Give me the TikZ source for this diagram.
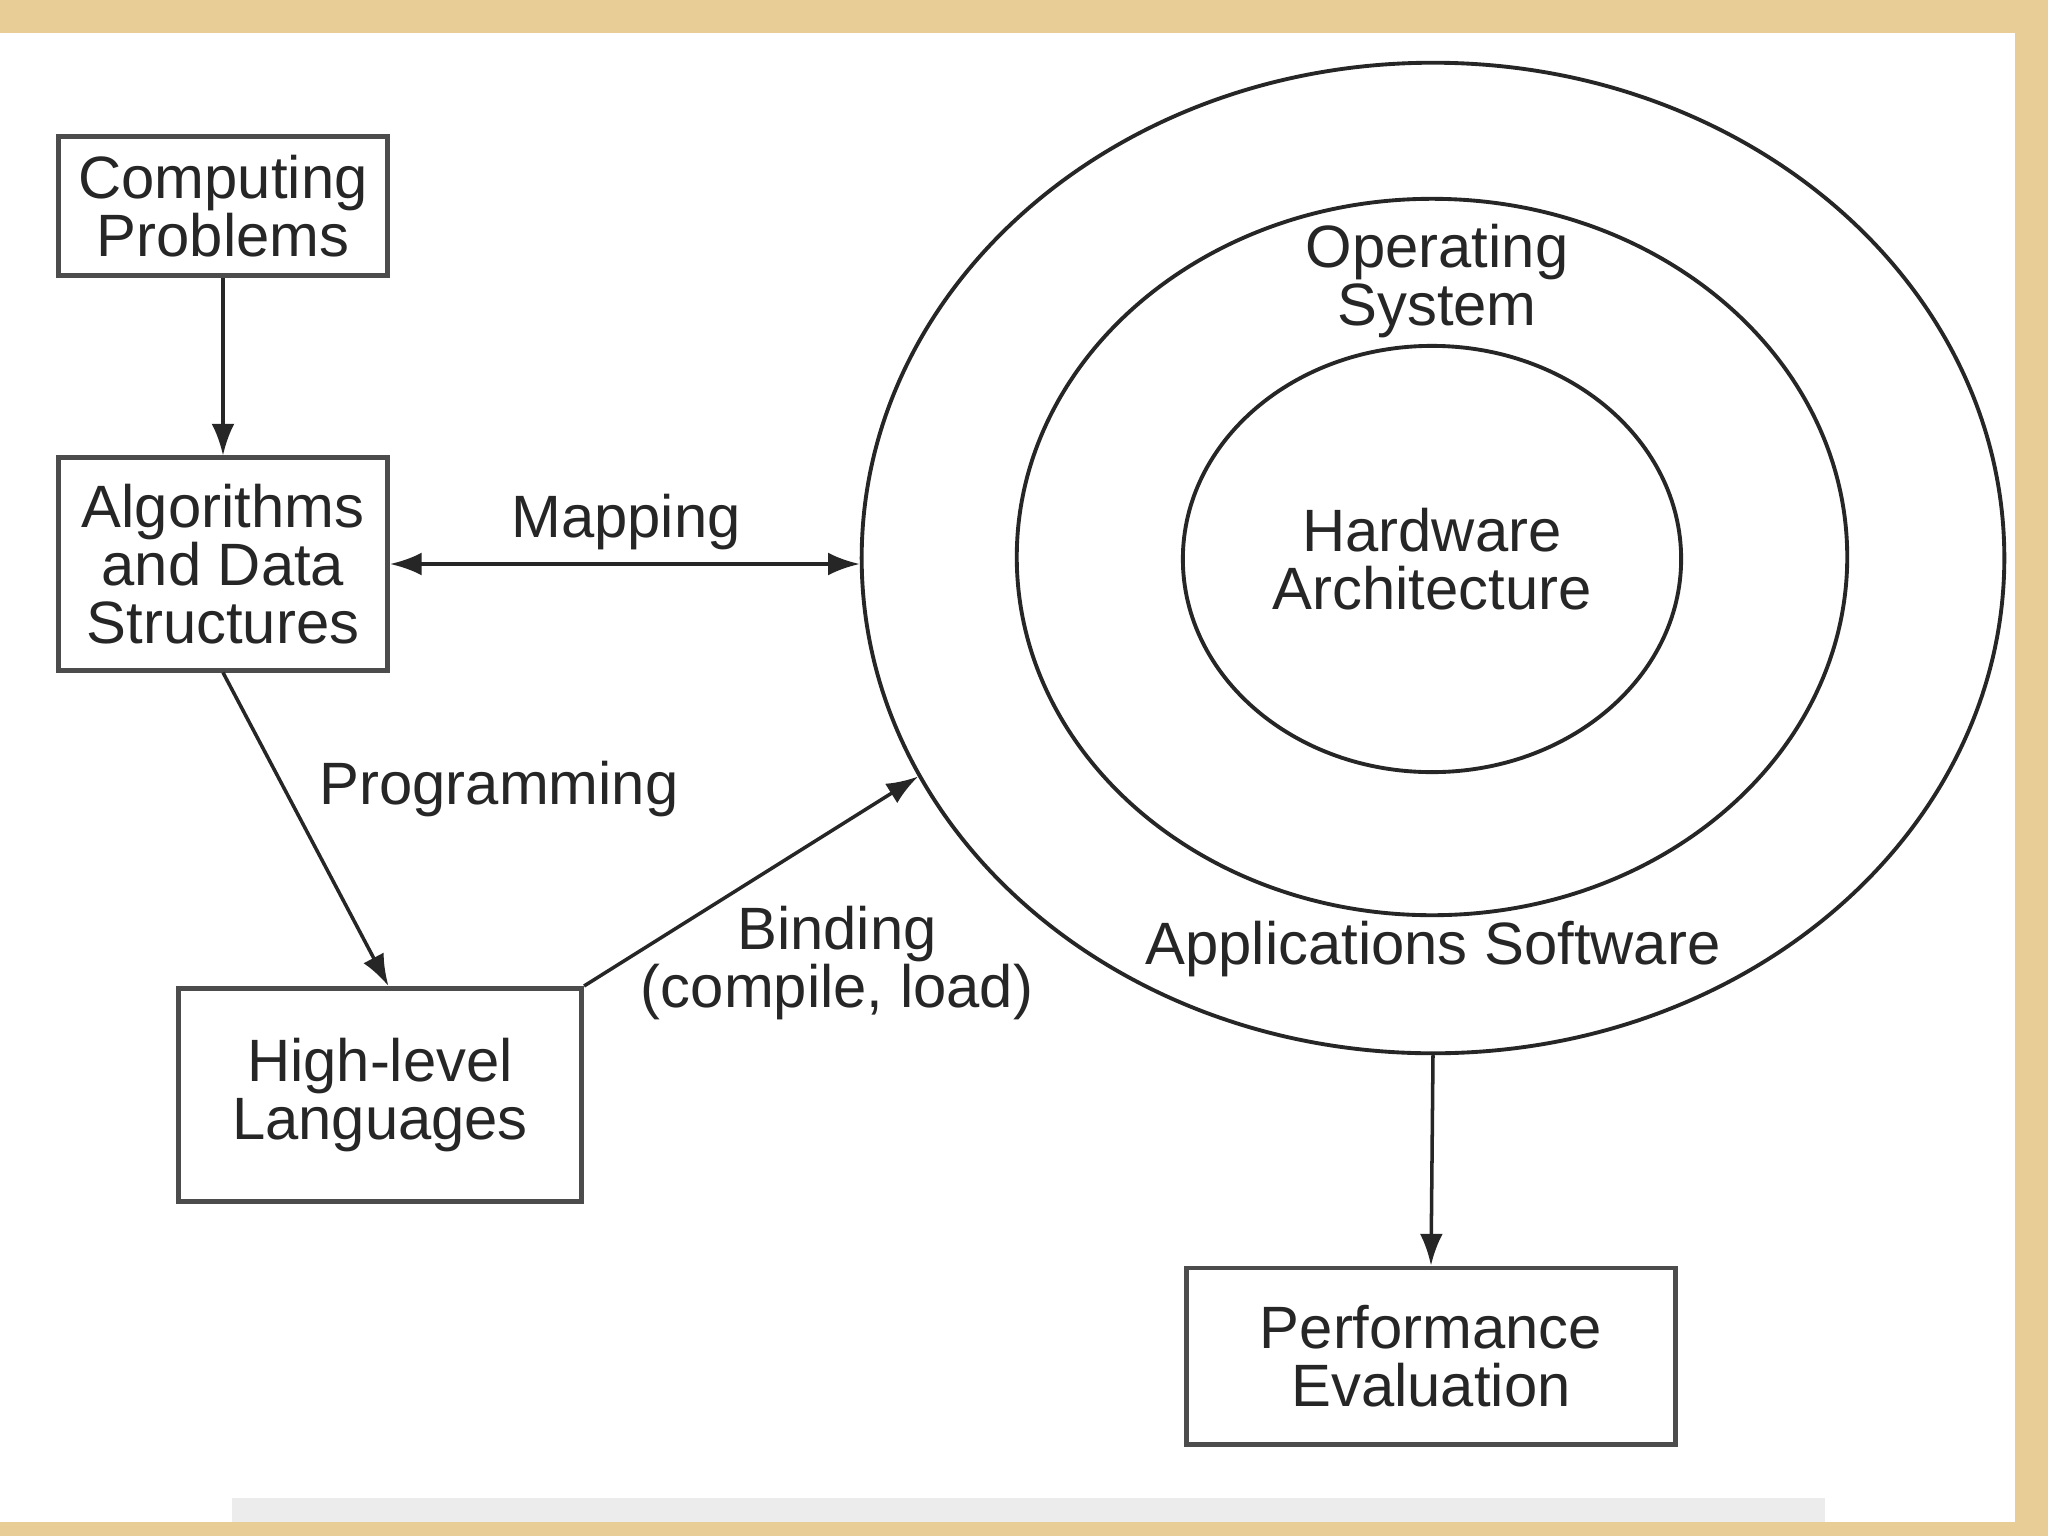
\documentclass[tikz,border=0pt]{standalone}
\usepackage{fontspec}
\setmainfont{Liberation Sans}
\usetikzlibrary{shapes.geometric,arrows.meta}
\definecolor{frametan}{RGB}{232,206,150}
\definecolor{capgrey}{RGB}{236,236,236}
\newcommand{\figfont}{\fontsize{17}{16.5}\selectfont}

\begin{document}
\begin{tikzpicture}[x=0.01cm,y=-0.01cm,
  every node/.style={font=\figfont,text=black!85},
  box/.style={draw=black!70,line width=1.4pt,align=center,inner sep=0pt},
  ring/.style={draw=black!85,ellipse,line width=1.1pt,align=center,inner sep=0pt},
  arr/.style={draw=black!85,line width=1pt,-{Latex[length=9pt,width=6.5pt]}},
  lbl/.style={align=center}]

\useasboundingbox (0,0) rectangle (2048,1536);
\fill[frametan] (0,0) rectangle (2048,1536);
\fill[white] (0,33) rectangle (2015,1522);
\fill[capgrey] (232,1498) rectangle (1825,1522);

% left column
\node[box,minimum width=3.29cm,minimum height=1.39cm] (comp) at (223,206) {Computing\\Problems};
\node[box,minimum width=3.29cm,minimum height=2.12cm] (algo) at (223,564) {Algorithms\\and Data\\Structures};
\node[box,minimum width=4.03cm,minimum height=2.13cm] (hll) at (380,1095) {High-level\\Languages};

% rings
\node[ring,minimum width=11.42cm,minimum height=9.90cm] (outer) at (1433,558) {};
\node[ring,minimum width=8.30cm,minimum height=7.16cm] (middle) at (1432,557) {};
\node[ring,minimum width=4.98cm,minimum height=4.26cm] (inner) at (1432,559) {Hardware\\Architecture};
\node[lbl] (os) at (1437,281) {Operating\\System};
\node[lbl] (apps) at (1433,949) {Applications Software};

\node[box,minimum width=4.89cm,minimum height=1.76cm] (perf) at (1431,1356) {Performance\\Evaluation};

% connectors
\draw[arr] (comp) -- (algo);
\draw[arr,{Latex[length=9pt,width=6.5pt]}-{Latex[length=9pt,width=6.5pt]}] (algo.east) -- (algo.east -| outer.west);
\draw[arr] (algo.south) -- ([xshift=2.4pt]hll.north);
\draw[arr] (hll.north east) -- (outer.203);
\draw[arr] (outer.south) -- (perf.north);

\node[lbl] (map) at (626,522) {Mapping};
\node[lbl] (prog) at (499,789) {Programming};
\node[lbl] (bind) at (837,963) {Binding\\(compile, load)};
\end{tikzpicture}
\end{document}
